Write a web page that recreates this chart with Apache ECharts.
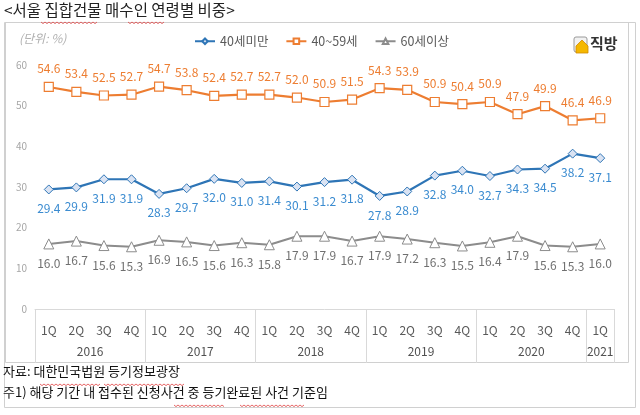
<!DOCTYPE html>
<html><head><meta charset="utf-8">
<script src="https://cdn.jsdelivr.net/npm/echarts@6/dist/echarts.min.js"></script>
<style>html,body{margin:0;padding:0;background:#fff}#c{width:640px;height:415px}</style>
</head><body><div id="c"></div>
<script>
const quarters = ['1Q','2Q','3Q','4Q','1Q','2Q','3Q','4Q','1Q','2Q','3Q','4Q','1Q','2Q','3Q','4Q','1Q','2Q','3Q','4Q','1Q'];
const years = ['2016','2017','2018','2019','2020','2021'];
const quartersPerYear = [4,4,4,4,4,1];
const under40 = [29.4,29.9,31.9,31.9,28.3,29.7,32.0,31.0,31.4,30.1,31.2,31.8,27.8,28.9,32.8,34.0,32.7,34.3,34.5,38.2,37.1];
const age40to59 = [54.6,53.4,52.5,52.7,54.7,53.8,52.4,52.7,52.7,52.0,50.9,51.5,54.3,53.9,50.9,50.4,50.9,47.9,49.9,46.4,46.9];
const over60 = [16.0,16.7,15.6,15.3,16.9,16.5,15.6,16.3,15.8,17.9,17.9,16.7,17.9,17.2,16.3,15.5,16.4,17.9,15.6,15.3,16.0];
const seriesNames = ['40세미만','40~59세','60세이상'];
const yTicks = [0,10,20,30,40,50,60];

// derived year boundaries / centers
const yearBounds = [0]; const yearCenters = [];
quartersPerYear.forEach((n,i)=>{ yearCenters.push(yearBounds[i] + n/2); yearBounds.push(yearBounds[i]+n); });

const FONT = '"Noto Sans CJK KR", "Noto Sans", sans-serif';
const chart = echarts.init(document.getElementById('c'), null, {renderer:'canvas'});

function sq(x1,y1,x2){ // red squiggle polyline points
  const pts=[]; let up=true; for(let x=x1;x<=x2;x+=2){pts.push([x, y1 + (up?0:1.6)]); up=!up;} return pts;
}
const squiggles = [[41,98,22],[128,165,22],[40,100,384],[104,184,384],[174,225,405],[240,304,405]];

const option = {
  backgroundColor:'#fff',
  animation:false,
  textStyle:{fontFamily:FONT},
  graphic:[
    {type:'rect', shape:{x:4.5,y:22.5,width:631,height:385}, style:{fill:'none', stroke:'#d0d0d0', lineWidth:1}},
    {type:'rect', shape:{x:5.5,y:22.5,width:623,height:340}, style:{fill:'none', stroke:'#d0d0d0', lineWidth:1}},
    {type:'text', left:4, top:2, style:{text:'<서울 집합건물 매수인 연령별 비중>', font:'15.5px '+FONT, fill:'#222'}},
    {type:'text', left:19, top:32, style:{text:'(단위: %)', font:'italic 12px '+FONT, fill:'#b0b0b0'}},
    {type:'text', left:3, top:365, style:{text:'자료: 대한민국법원 등기정보광장', font:'13px '+FONT, fill:'#111'}},
    {type:'text', left:3, top:386, style:{text:'주1) 해당 기간 내 접수된 신청사건 중 등기완료된 사건 기준임', font:'13px '+FONT, fill:'#111'}},
    // logo
    {type:'rect', shape:{x:574,y:37,width:13,height:15,r:2}, style:{fill:'#f2f2f2', stroke:'#9a9a9a', lineWidth:1}},
    {type:'polygon', shape:{points:[[576,46],[582,40],[588,46],[588,53],[576,53]]}, style:{fill:'#f5b800', stroke:'#d08a00', lineWidth:0.8}},
    {type:'text', left:590, top:36, style:{text:'직방', font:'bold 15px '+FONT, fill:'#333'}},
    ...squiggles.map(s=>({type:'polyline', shape:{points:sq(s[0],s[2],s[1])}, style:{stroke:'#e04040', lineWidth:0.8, fill:'none'}}))
  ],
  legend:{
    top:30, left:189, itemGap:17, itemWidth:20, itemHeight:7,
    textStyle:{fontSize:12.5, color:'#595959', fontFamily:FONT},
    data:seriesNames
  },
  grid:{left:35, right:26, top:65, bottom:106},
  xAxis:[
    {type:'category', data:quarters, boundaryGap:true,
     axisLine:{show:true, lineStyle:{color:'#d9d9d9'}},
     axisTick:{show:false},
     axisLabel:{color:'#595959', fontSize:12, margin:15, interval:0, fontFamily:FONT}},
    {type:'value', min:0, max:quarters.length, position:'bottom',
     axisLine:{show:false}, splitLine:{show:false},
     axisTick:{show:true, length:54, customValues:yearBounds, lineStyle:{color:'#d9d9d9'}},
     axisLabel:{show:true, customValues:yearCenters, margin:36, color:'#505050', fontSize:12, fontWeight:'normal', fontFamily:FONT,
       formatter:(v)=>{const i=yearCenters.indexOf(v); return i>=0?years[i]:'';}}}
  ],
  yAxis:{type:'value', min:0, max:60, interval:10,
    axisLine:{show:false}, axisTick:{show:false}, splitLine:{show:false},
    axisLabel:{color:'#a6a6a6', fontSize:10, margin:8, fontFamily:FONT,
      formatter:(v)=> yTicks.includes(v)? String(v):''}},
  series:[
    {name:seriesNames[0], type:'line', data:under40, symbol:'diamond', symbolSize:9,
     lineStyle:{color:'#2e75b6', width:2.2}, itemStyle:{color:'#dae3f3', borderColor:'#2e75b6', borderWidth:1},
     label:{show:true, position:'bottom', distance:8, color:'#3a8bd0', fontSize:12, fontFamily:FONT, formatter:p=>p.value.toFixed(1)}},
    {name:seriesNames[1], type:'line', data:age40to59, symbol:'rect', symbolSize:9,
     lineStyle:{color:'#ed7d31', width:2.2}, itemStyle:{color:'#ffffff', borderColor:'#ed7d31', borderWidth:1.2},
     label:{show:true, position:'top', distance:7, color:'#ed7d31', fontSize:12, fontFamily:FONT, formatter:p=>p.value.toFixed(1)}},
    {name:seriesNames[2], type:'line', data:over60, symbol:'triangle', symbolSize:10,
     lineStyle:{color:'#8c8c8c', width:2}, itemStyle:{color:'#ffffff', borderColor:'#8c8c8c', borderWidth:1},
     label:{show:true, position:'bottom', distance:8, color:'#707070', fontSize:12, fontFamily:FONT, formatter:p=>p.value.toFixed(1)}}
  ]
};
chart.setOption(option);
</script></body></html>
